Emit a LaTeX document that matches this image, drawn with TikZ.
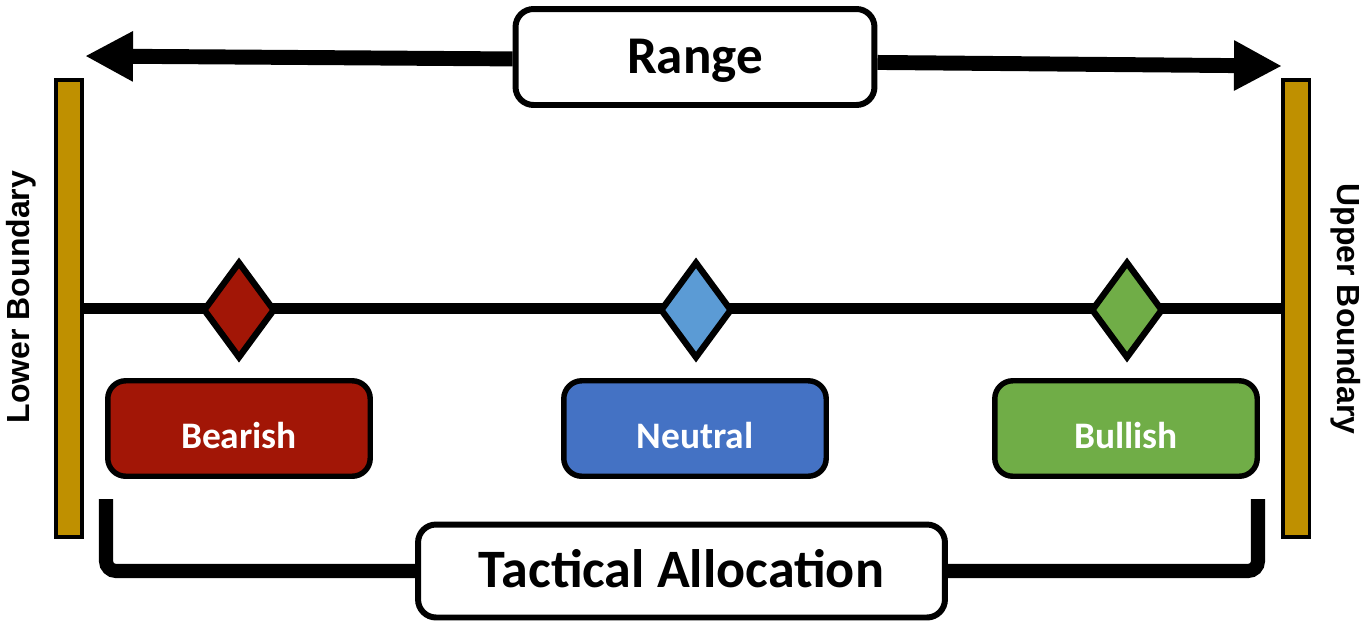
\documentclass[tikz,border=0pt]{standalone}
\usepackage{fontspec}
\setmainfont{Carlito}
\newfontfamily\arialfont{Liberation Sans}
\usepackage{tikz}
\usetikzlibrary{shapes.geometric, arrows.meta}
\definecolor{bearred}{HTML}{A21606}
\definecolor{neutblue}{HTML}{4472C4}
\definecolor{lightblue}{HTML}{5B9BD5}
\definecolor{bullgreen}{HTML}{70AD47}
\definecolor{boundgold}{HTML}{BF9000}
\tikzstyle{titlebox} = [rectangle, rounded corners=0.36cm, minimum width=7.18cm, minimum height=1.92cm, text centered, draw=black, line width=3.4pt, fill=white, text height=19pt, text depth=0pt, font=\bfseries\fontsize{30.2}{36}\selectfont]
\tikzstyle{state} = [rectangle, rounded corners=0.36cm, minimum width=5.25cm, minimum height=1.91cm, text centered, draw=black, line width=3.1pt, text=white, text height=23pt, text depth=0pt, font=\bfseries\fontsize{21.3}{25}\selectfont]
\tikzstyle{marker} = [diamond, minimum width=1.44cm, minimum height=1.94cm, inner sep=0pt, draw=black, line width=3.6pt]
\tikzstyle{bound} = [rectangle, minimum width=0.53cm, minimum height=9.14cm, inner sep=0pt, draw=black, fill=boundgold, line width=2pt]
\tikzstyle{boundlabel} = [font=\arialfont\bfseries\fontsize{18.2}{22}\selectfont]
\tikzstyle{arrow} = [line width=8.5pt, -{Triangle[length=0.96cm, width=0.94cm]}]
\tikzstyle{line} = [line width=6pt, -]
\tikzstyle{bracket} = [line width=8pt, rounded corners=0.2cm, -]
\begin{document}
\begin{tikzpicture}[x=0.02cm, y=-0.02cm]
  \useasboundingbox (0,0) rectangle (1372,623);

  % boundaries
  \node (lowbar) [bound] at (69,308.5) {};
  \node (upbar) [bound] at (1296,308.5) {};
  \node (lowlabel) [boundlabel, rotate=90] at (21,297) {Lower Boundary};
  \node (uplabel) [boundlabel, rotate=-90] at (1346,309) {Upper Boundary};

  % range
  \node (range) [titlebox] at (695,57) {Range};
  \coordinate (lowtip) at (85,56);
  \coordinate (uptip) at (1282,66);
  \draw [arrow] ([yshift=-1.1pt]range.west) -- (lowtip);
  \draw [arrow] ([yshift=-3.1pt]range.east) -- (uptip);

  % scale with markers
  \draw [line] (lowbar) -- (upbar);
  \node (beardiam) [marker, fill=bearred] at (239,310) {};
  \node (neutdiam) [marker, fill=lightblue] at (696,310) {};
  \node (bulldiam) [marker, fill=bullgreen] at (1127,310) {};

  \node (bearish) [state, fill=bearred] at (239,428.5) {Bearish};
  \node (neutral) [state, fill=neutblue] at (695,428.5) {Neutral};
  \node (bullish) [state, fill=bullgreen] at (1126,428.5) {Bullish};

  % tactical allocation bracket
  \node (tactical) [titlebox, minimum width=10.54cm, minimum height=1.86cm, font=\bfseries\fontsize{30.8}{36}\selectfont] at (681.5,571) {Tactical Allocation};
  \coordinate (bearend) at (106,499);
  \coordinate (bullend) at (1258,499);
  \draw [bracket] (tactical.west) -| (bearend);
  \draw [bracket] (tactical.east) -| (bullend);

\end{tikzpicture}
\end{document}
